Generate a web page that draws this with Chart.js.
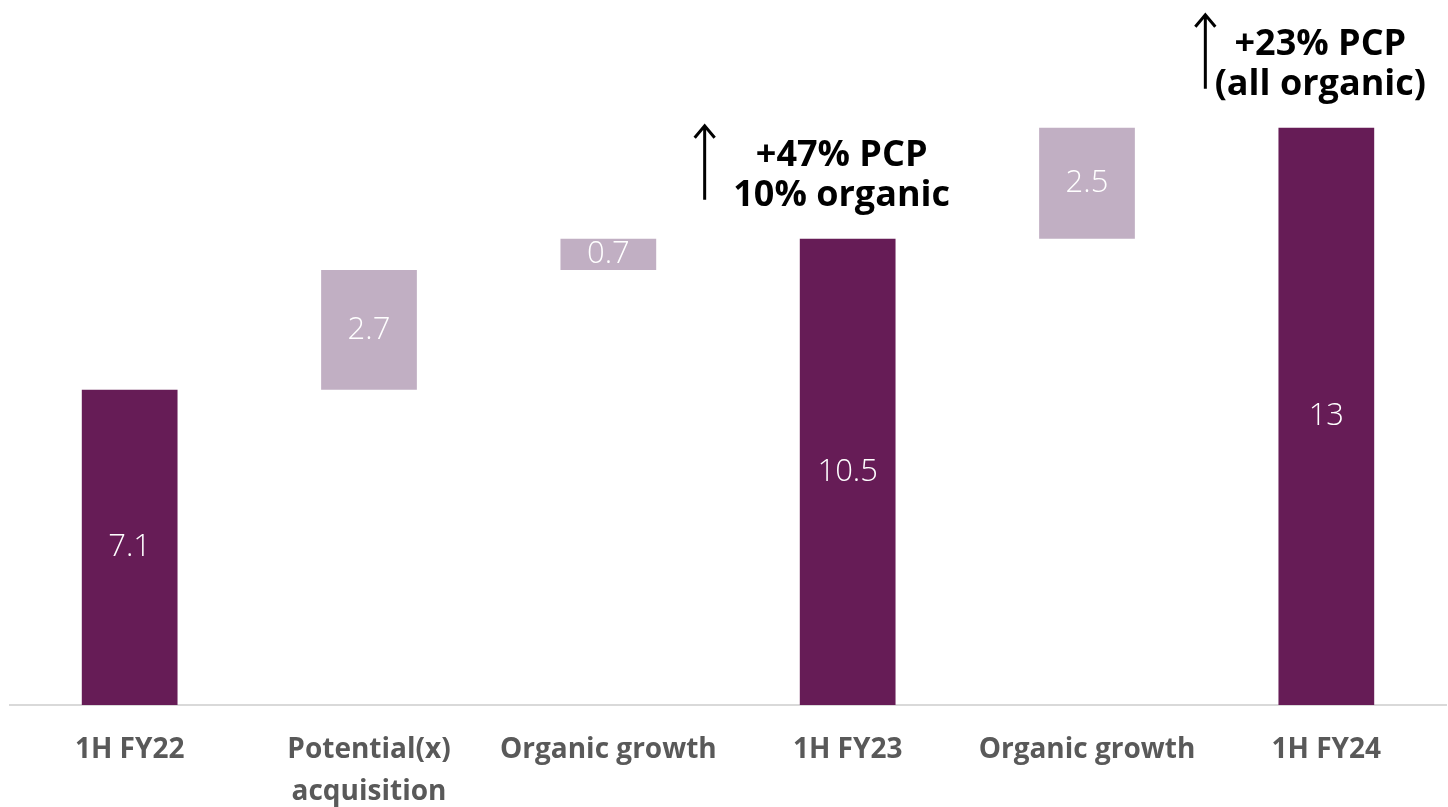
<!DOCTYPE html>
<html>
<head>
<meta charset="utf-8">
<script src="https://cdn.jsdelivr.net/npm/chart.js@4.4.1/dist/chart.umd.min.js"></script>
<style>
  html, body { margin: 0; padding: 0; background: #fff; }
  #wrap { width: 1448px; height: 807px; position: relative; }
</style>
</head>
<body>
<div id="wrap"><canvas id="mycanvas"></canvas></div>
<script>
// waterfall data
var categories = ['1H FY22', ['Potential(x)', 'acquisition'], 'Organic growth', '1H FY23', 'Organic growth', '1H FY24'];
var values = [7.1, 2.7, 0.7, 10.5, 2.5, 13];
var isTotal = [true, false, false, true, false, true];
var valueLabels = ['7.1', '2.7', '0.7', '10.5', '2.5', '13'];
var notes = [
  { index: 3, lines: ['+47% PCP', '10% organic'] },
  { index: 5, lines: ['+23% PCP', '(all organic)'] }
];

var dark = '#661c56';
var light = '#c1afc3';

// build floating ranges from running total
var ranges = [];
var colors = [];
var running = 0;
for (var i = 0; i < values.length; i++) {
  if (isTotal[i]) {
    ranges.push([0, values[i]]);
    running = values[i];
    colors.push(dark);
  } else {
    ranges.push([running, running + values[i]]);
    running = running + values[i];
    colors.push(light);
  }
}

var labelPlugin = {
  id: 'labels',
  afterDatasetsDraw: function(chart) {
    var ctx = chart.ctx;
    var meta = chart.getDatasetMeta(0);
    var ys = chart.scales.y;
    ctx.save();
    ctx.fillStyle = '#ffffff';
    ctx.font = '300 31px "Open Sans"';
    ctx.textAlign = 'center';
    ctx.textBaseline = 'middle';
    meta.data.forEach(function(bar, i) {
      var mid = (ys.getPixelForValue(ranges[i][0]) + ys.getPixelForValue(ranges[i][1])) / 2;
      ctx.fillText(valueLabels[i], bar.x, mid);
    });

    // annotations above the totals
    ctx.fillStyle = '#000';
    ctx.strokeStyle = '#000';
    ctx.lineWidth = 3;
    ctx.font = 'bold 36px "Open Sans"';
    notes.forEach(function(n) {
      var bar = meta.data[n.index];
      var top = ys.getPixelForValue(ranges[n.index][1]);
      var tx = bar.x - 6;
      var y2 = top - 43;
      var y1 = y2 - 40;
      ctx.fillText(n.lines[0], tx, y1);
      ctx.fillText(n.lines[1], tx, y2);
      var ax = bar.x - 143 + (n.index === 5 ? 22 : 0);
      var aTop = y1 - 30, aBot = y2 + 4;
      ctx.beginPath();
      ctx.moveTo(ax, aBot);
      ctx.lineTo(ax, aTop);
      ctx.moveTo(ax - 10, aTop + 12);
      ctx.lineTo(ax, aTop);
      ctx.lineTo(ax + 10, aTop + 12);
      ctx.stroke();
    });
    ctx.restore();
  }
};

var ctx = document.getElementById('mycanvas');

var myChart = new Chart(ctx, {
  type: 'bar',
  data: {
    labels: categories,
    datasets: [{
      data: ranges,
      backgroundColor: colors,
      borderWidth: 0,
      categoryPercentage: 1,
      barPercentage: 0.4
    }]
  },
  options: {
    responsive: true,
    maintainAspectRatio: false,
    animation: false,
    layout: { padding: { left: 10, right: 2, top: 39, bottom: 0 } },
    plugins: {
      legend: { display: false },
      tooltip: { enabled: false }
    },
    scales: {
      x: {
        grid: { display: true, drawOnChartArea: false, drawTicks: false },
        border: { display: true, color: '#d9d9d9', width: 2 },
        afterFit: function(scale) { scale.height = 102; },
        ticks: {
          color: '#595959',
          padding: 24,
          maxRotation: 0,
          autoSkip: false,
          font: { family: '"Open Sans"', size: 28, weight: 'bold', lineHeight: 1.5 }
        }
      },
      y: {
        display: false,
        min: 0,
        max: 15
      }
    }
  },
  plugins: [labelPlugin]
});
</script>
</body>
</html>
